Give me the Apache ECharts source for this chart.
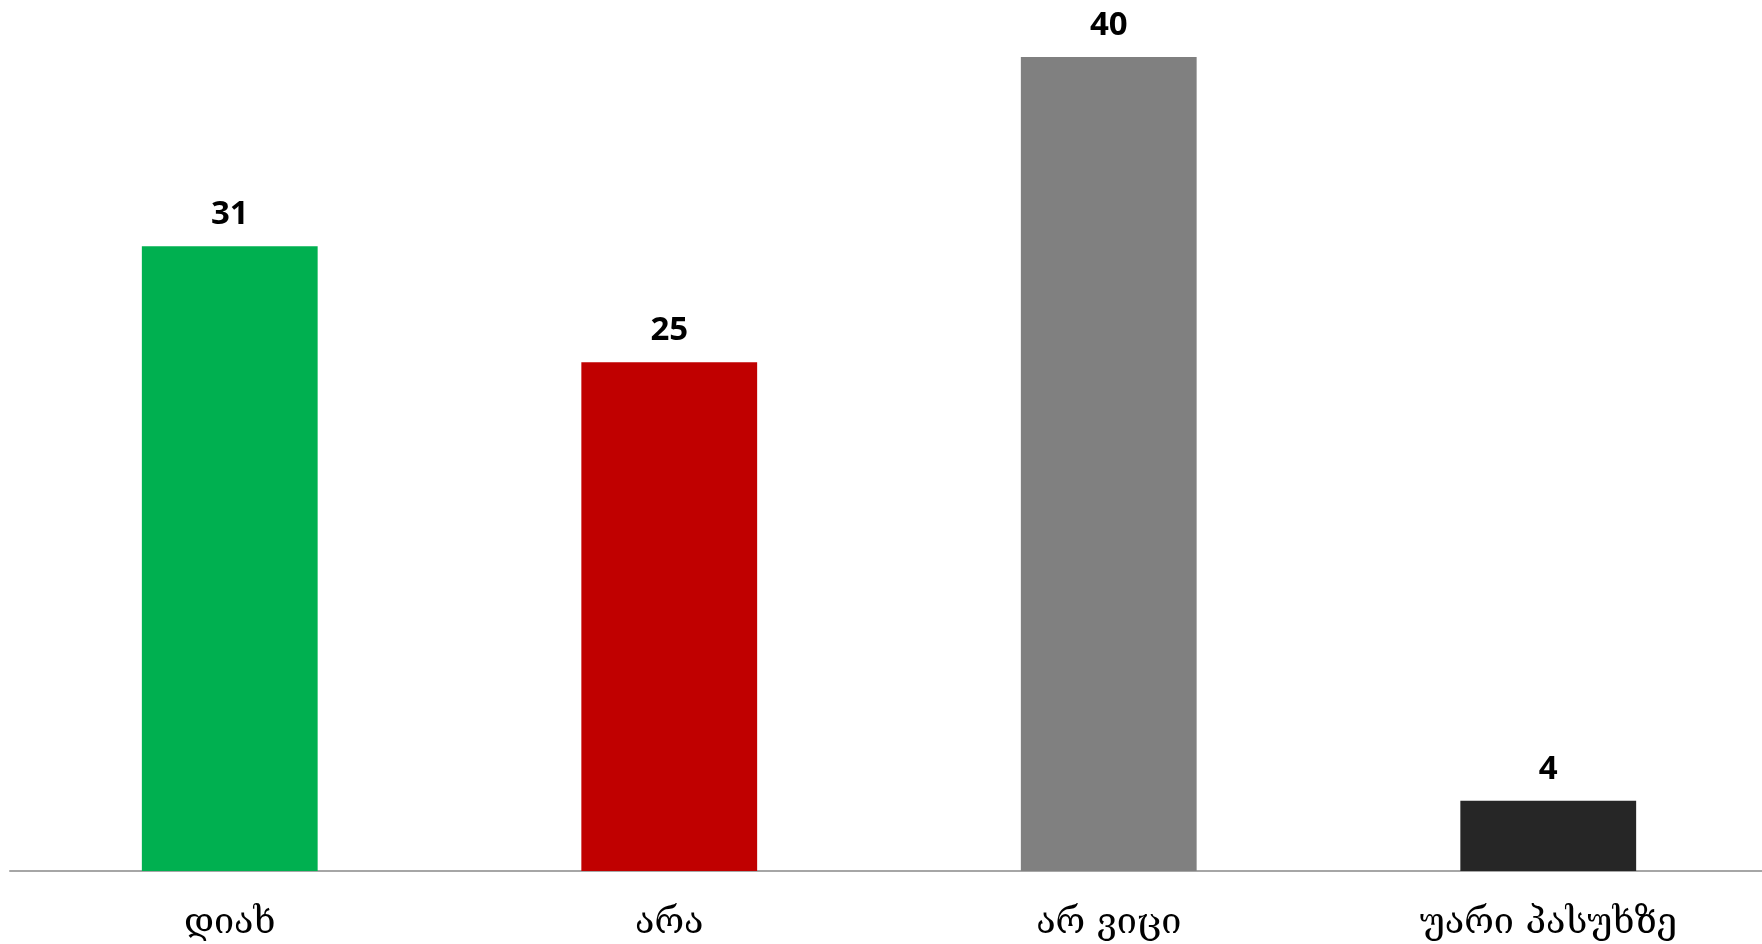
<!DOCTYPE html>
<html>
<head>
<meta charset="utf-8">
<script src="https://cdn.jsdelivr.net/npm/echarts@6/dist/echarts.min.js"></script>
<style>html,body{margin:0;padding:0;background:#fff;overflow:hidden;}#c{width:1780px;height:944px;}</style>
</head>
<body>
<div id="c"></div>
<script>
const categories = ["დიახ", "არა", "არ ვიცი", "უარი პასუხზე"];
const values = [30.7, 25, 40, 3.45];
const valueLabels = ["31", "25", "40", "4"];
const colors = ["#00B050", "#C00000", "#808080", "#262626"];

const chart = echarts.init(document.getElementById('c'), null, {renderer: 'canvas'});
chart.setOption({
  animation: false,
  grid: {left: 10, width: 1758, top: 57, bottom: 73, containLabel: false},
  xAxis: {
    type: 'category',
    data: categories,
    axisLine: {show: true, lineStyle: {color: '#a6a6a6', width: 2}},
    axisTick: {show: false},
    axisLabel: {
      margin: 35,
      fontFamily: 'DejaVu Serif',
      fontSize: 36,
      color: '#000'
    }
  },
  yAxis: {
    type: 'value',
    min: 0,
    max: 40,
    show: false,
    splitLine: {show: false}
  },
  series: [{
    type: 'bar',
    barWidth: '40%',
    data: values.map((v, i) => ({value: v, itemStyle: {color: colors[i]}})),
    label: {
      show: true,
      position: 'top',
      distance: 15,
      fontFamily: 'Open Sans',
      fontWeight: 'bold',
      fontSize: 33,
      color: '#000',
      formatter: p => valueLabels[p.dataIndex]
    }
  }]
});
</script>
</body>
</html>
